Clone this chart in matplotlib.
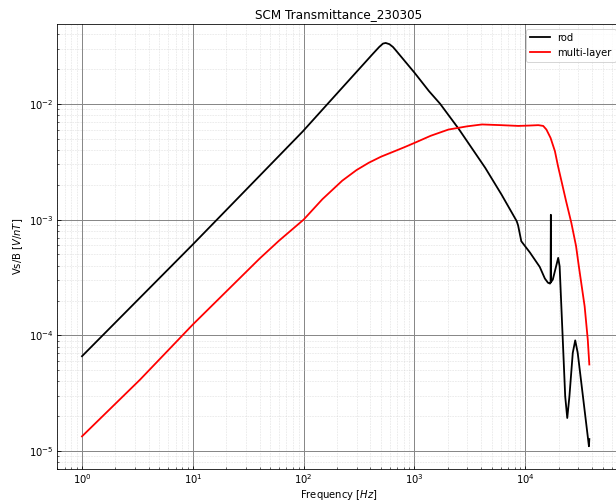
import numpy as np
import matplotlib.pyplot as plt

# rod response
rod_freq = [1.0, 10, 32.4, 98, 200, 318, 420, 480, 520, 550, 594, 640, 673,
            1000, 1350, 1706, 2500, 4350, 6090, 8360, 8610, 9200, 11000,
            13500, 15000, 16000, 16700, 16900, 17000, 17100, 17700, 19800,
            20400, 22900, 23900, 25000, 26800, 28200, 29700, 37500, 37800]
rod_vals = [6.6e-5, 6.1e-4, 1.94e-3, 5.77e-3, 1.23e-2, 2.01e-2, 2.7e-2,
            3.1e-2, 3.32e-2, 3.36e-2, 3.28e-2, 3.1e-2, 2.93e-2, 1.86e-2,
            1.29e-2, 1.0e-2, 6.1e-3, 2.8e-3, 1.65e-3, 9.7e-4, 8.9e-4, 6.5e-4,
            5.2e-4, 3.9e-4, 3.1e-4, 2.85e-4, 2.8e-4, 2.85e-4, 1.1e-3, 2.9e-4,
            3.03e-4, 4.67e-4, 3.95e-4, 2.97e-5, 1.93e-5, 2.97e-5, 7.05e-5,
            9.05e-5, 7.05e-5, 1.1e-5, 1.27e-5]

# multi-layer response
ml_freq = [1.0, 3.34, 10, 40, 60.2, 100, 147.5, 223, 300, 387, 500, 627, 800,
           1000, 1400, 2024, 3000, 4060, 6000, 8650, 11000, 13100, 14500,
           15500, 16900, 18500, 19700, 21200, 23300, 26000, 28700, 30400,
           34300, 36600, 37800]
ml_vals = [1.34e-5, 4.14e-5, 1.24e-4, 4.6e-4, 6.6e-4, 1.0e-3, 1.5e-3,
           2.17e-3, 2.68e-3, 3.1e-3, 3.5e-3, 3.82e-3, 4.2e-3, 4.6e-3, 5.3e-3,
           6.0e-3, 6.4e-3, 6.64e-3, 6.55e-3, 6.45e-3, 6.5e-3, 6.55e-3,
           6.45e-3, 6.0e-3, 5.08e-3, 3.9e-3, 2.91e-3, 2.15e-3, 1.45e-3,
           9.4e-4, 5.9e-4, 3.95e-4, 1.78e-4, 9.2e-5, 5.6e-5]

fig = plt.figure(figsize=(616/72, 501/72), dpi=72)
ax = fig.add_axes([57/616, 32/501, 564/616, 445/501])

ax.plot(rod_freq, rod_vals, color='black', lw=1.8, label='rod')
ax.plot(ml_freq, ml_vals, color='red', lw=1.8, label='multi-layer')
ax.set_xscale('log')
ax.set_yscale('log')
ax.set_xlim(0.595, 7.3e4)
ax.set_ylim(7.0e-6, 4.9e-2)

ax.grid(True, which='major', color='#888888', lw=1.0)
ax.grid(True, which='minor', color='#cccccc', lw=0.6, ls=':')
ax.tick_params(which='both', direction='in')

ax.set_title('SCM Transmittance_230305')
ax.set_xlabel('Frequency [$Hz$]', labelpad=2)
ax.set_ylabel('Vs/B [$V/nT$]')
ax.legend(loc='upper right')

fig.savefig('out.png', dpi=72)
